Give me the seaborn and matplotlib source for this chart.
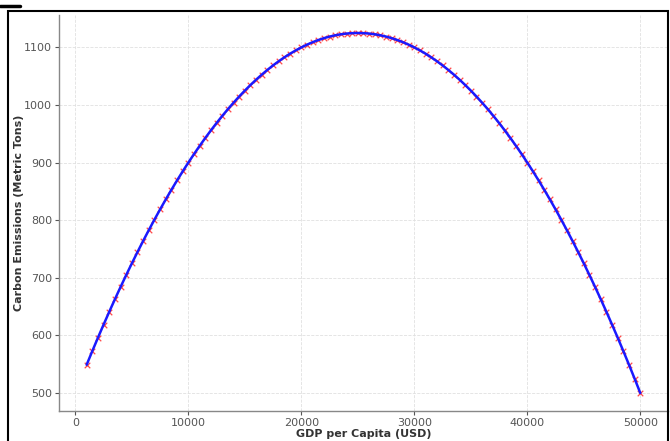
import matplotlib
matplotlib.use("Agg")
import matplotlib.pyplot as plt
import seaborn as sns
import pandas as pd
from matplotlib.patches import Rectangle
from matplotlib.lines import Line2D

gdp_per_capita = [
    1000, 1500, 2000, 2500, 3000, 3500, 4000, 4500, 5000, 5500,
    6000, 6500, 7000, 7500, 8000, 8500, 9000, 9500, 10000, 10500,
    11000, 11500, 12000, 12500, 13000, 13500, 14000, 14500, 15000, 15500,
    16000, 16500, 17000, 17500, 18000, 18500, 19000, 19500, 20000, 20500,
    21000, 21500, 22000, 22500, 23000, 23500, 24000, 24500, 25000, 25500,
    26000, 26500, 27000, 27500, 28000, 28500, 29000, 29500, 30000, 30500,
    31000, 31500, 32000, 32500, 33000, 33500, 34000, 34500, 35000, 35500,
    36000, 36500, 37000, 37500, 38000, 38500, 39000, 39500, 40000, 40500,
    41000, 41500, 42000, 42500, 43000, 43500, 44000, 44500, 45000, 45500,
    46000, 46500, 47000, 47500, 48000, 48500, 49000, 49500, 50000,
]
carbon_emissions = [
    549, 572.75, 596, 618.75, 641, 662.75, 684, 704.75, 725, 744.75,
    764, 782.75, 801, 818.75, 836, 852.75, 869, 884.75, 900, 914.75,
    929, 942.75, 956, 968.75, 981, 992.75, 1004, 1014.75, 1025, 1034.75,
    1044, 1052.75, 1061, 1068.75, 1076, 1082.75, 1089, 1094.75, 1100, 1104.75,
    1109, 1112.75, 1116, 1118.75, 1121, 1122.75, 1124, 1124.75, 1125, 1124.75,
    1124, 1122.75, 1121, 1118.75, 1116, 1112.75, 1109, 1104.75, 1100, 1094.75,
    1089, 1082.75, 1076, 1068.75, 1061, 1052.75, 1044, 1034.75, 1025, 1014.75,
    1004, 992.75, 981, 968.75, 956, 942.75, 929, 914.75, 900, 884.75,
    869, 852.75, 836, 818.75, 801, 782.75, 764, 744.75, 725, 704.75,
    684, 662.75, 641, 618.75, 596, 572.75, 549, 524.75, 500,
]
x_ticks = [0, 10000, 20000, 30000, 40000, 50000]
y_ticks = [500, 600, 700, 800, 900, 1000, 1100]

df = pd.DataFrame({"gdp": gdp_per_capita, "co2": carbon_emissions})

sns.set_style("whitegrid")
plt.rcParams["font.family"] = ["DejaVu Sans"]

fig = plt.figure(figsize=(6.7, 4.41), dpi=100)
ax = fig.add_axes([0.088, 0.068, 0.909, 0.898])

sns.scatterplot(data=df, x="gdp", y="co2", marker="x", color="#ff2a2a", s=16,
                linewidth=0.9, alpha=0.85, ax=ax, zorder=3)
sns.lineplot(data=df, x="gdp", y="co2", color="#1a1aff", linewidth=1.8, ax=ax,
             zorder=4)

ax.set_xlim(-1450, 52450)
ax.set_ylim(468.75, 1156.25)
ax.set_xticks(x_ticks)
ax.set_yticks(y_ticks)
ax.set_xlabel("GDP per Capita (USD)", fontsize=8, fontweight="bold", color="#333333", labelpad=1)
ax.set_ylabel("Carbon Emissions (Metric Tons)", fontsize=8, fontweight="bold", color="#333333", labelpad=0)
ax.tick_params(axis="both", labelsize=8, colors="#555555", length=3, width=0.8,
               direction="out", left=True, bottom=True, pad=2)
for lab in ax.get_xticklabels() + ax.get_yticklabels():
    lab.set_color("#555555")

ax.grid(True, color="#e0e0e0", linestyle="--", linewidth=0.6)
for side in ["top", "right"]:
    ax.spines[side].set_visible(False)
for side in ["left", "bottom"]:
    ax.spines[side].set_visible(True)
    ax.spines[side].set_color("#888888")
    ax.spines[side].set_linewidth(1.0)

# screenshot-style frame
fig.patches.append(Rectangle((7.5 / 670, -0.1), (668 - 7.5) / 670, (441 - 11) / 441 + 0.1,
                             transform=fig.transFigure, fill=False,
                             edgecolor="black", linewidth=1.5, zorder=10))
fig.lines.append(Line2D([0, 20 / 670], [1 - 6 / 441, 1 - 6 / 441],
                        transform=fig.transFigure, color="black", linewidth=2.5))

fig.savefig("out.png", dpi=100)
